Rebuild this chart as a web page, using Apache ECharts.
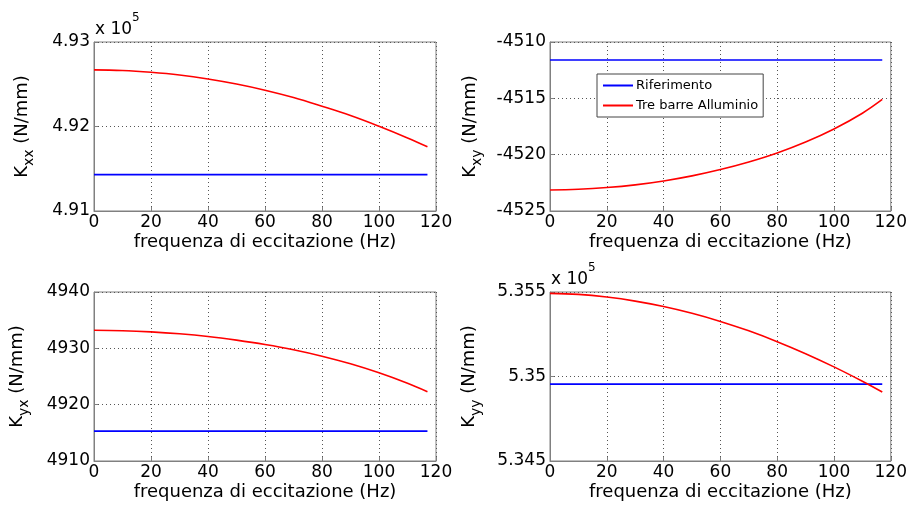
<!DOCTYPE html>
<html>
<head>
<meta charset="utf-8">
<script src="https://cdn.jsdelivr.net/npm/echarts@6/dist/echarts.min.js"></script>
<style>html,body{margin:0;padding:0;background:#fff;}#c{width:910px;height:507px;}</style>
</head>
<body>
<div id="c"></div>
<script>
// ---- data ----
const freq = [0, 10, 20, 30, 40, 50, 60, 70, 80, 90, 100, 110, 117];
const seriesNames = ['Riferimento', 'Tre barre Alluminio'];
const xTitle = 'frequenza di eccitazione (Hz)';
// Kxx (N/mm)
const kxxRef = [491430, 491430, 491430, 491430, 491430, 491430, 491430, 491430, 491430, 491430, 491430, 491430, 491430];
const kxxAl  = [492670, 492663, 492642, 492610, 492563, 492503, 492430, 492343, 492240, 492130, 492003, 491865, 491760];
// Kxy (N/mm)
const kxyRef = [-4511.6, -4511.6, -4511.6, -4511.6, -4511.6, -4511.6, -4511.6, -4511.6, -4511.6, -4511.6, -4511.6, -4511.6, -4511.6];
const kxyAl  = [-4523.13, -4523.07, -4522.92, -4522.68, -4522.33, -4521.88, -4521.32, -4520.65, -4519.85, -4518.88, -4517.72, -4516.32, -4515.1];
// Kyx (N/mm)
const kyxRef = [4915.3, 4915.3, 4915.3, 4915.3, 4915.3, 4915.3, 4915.3, 4915.3, 4915.3, 4915.3, 4915.3, 4915.3, 4915.3];
const kyxAl  = [4933.2, 4933.13, 4932.92, 4932.58, 4932.1, 4931.45, 4930.68, 4929.75, 4928.6, 4927.25, 4925.65, 4923.8, 4922.3];
// Kyy (N/mm)
const kyyRef = [534955, 534955, 534955, 534955, 534955, 534955, 534955, 534955, 534955, 534955, 534955, 534955, 534955];
const kyyAl  = [535492, 535486, 535470, 535446, 535414, 535374, 535326, 535270, 535206, 535135, 535057, 534972, 534908];
// axes
const xTicks = {min: 0, max: 120, interval: 20};
const yAxesDef = [
  {sub: 'xx', min: 491000, max: 493000, interval: 1000, scale: 1e5},
  {sub: 'xy', min: -4525, max: -4510, interval: 5, scale: 1},
  {sub: 'yx', min: 4910, max: 4940, interval: 10, scale: 1},
  {sub: 'yy', min: 534500, max: 535500, interval: 500, scale: 1e5}
];
const panels = [[kxxRef, kxxAl], [kxyRef, kxyAl], [kyxRef, kyxAl], [kyyRef, kyyAl]];

// ---- layout / style ----
const FONT = 'DejaVu Sans';
const grids = [
  {left: 94, top: 42, width: 342, height: 169},
  {left: 550, top: 42, width: 343, height: 169},
  {left: 94, top: 292, width: 342, height: 169},
  {left: 550, top: 292, width: 343, height: 169}
];
const yNameGaps = [58, 66, 63, 67];
const colors = ['#0000ff', '#ff0000'];
const frameColor = '#808080';

const pairs = arr => freq.map((f, i) => [f, arr[i]]);
const expoLabel = {
  text: '{a|x 10}{b|5}',
  rich: {
    a: {fontFamily: FONT, fontSize: 17, fill: '#000', lineHeight: 26, verticalAlign: 'bottom'},
    b: {fontFamily: FONT, fontSize: 12, fill: '#000', lineHeight: 14, verticalAlign: 'top'}
  }
};

const option = {
  animation: false,
  backgroundColor: '#fff',
  grid: grids.map(g => Object.assign({show: true, borderColor: frameColor, borderWidth: 1, backgroundColor: '#fff'}, g)),
  xAxis: grids.map((g, i) => ({
    type: 'value', gridIndex: i, min: xTicks.min, max: xTicks.max, interval: xTicks.interval,
    name: xTitle, nameLocation: 'middle', nameGap: 22,
    nameTextStyle: {fontFamily: FONT, fontSize: 18, color: '#000'},
    axisLine: {show: true, lineStyle: {color: frameColor}},
    axisTick: {show: true, inside: true, length: 4, lineStyle: {color: frameColor}},
    axisLabel: {fontFamily: FONT, fontSize: 17, color: '#000', margin: 3},
    splitLine: {show: true, lineStyle: {color: '#555', type: [1, 3], width: 1}}
  })),
  yAxis: yAxesDef.map((d, i) => ({
    type: 'value', gridIndex: i, min: d.min, max: d.max, interval: d.interval,
    name: '{k|K}{s|' + d.sub + '}{k| (N/mm)}', nameLocation: 'middle', nameRotate: 90, nameGap: yNameGaps[i],
    nameTextStyle: {
      fontFamily: FONT, color: '#000',
      rich: {
        k: {fontFamily: FONT, fontSize: 18, color: '#000', lineHeight: 23, verticalAlign: 'top'},
        s: {fontFamily: FONT, fontSize: 14, color: '#000', lineHeight: 12, verticalAlign: 'bottom'}
      }
    },
    axisLine: {show: true, lineStyle: {color: frameColor}},
    axisTick: {show: true, inside: true, length: 4, lineStyle: {color: frameColor}},
    axisLabel: {
      fontFamily: FONT, fontSize: 17, color: '#000', margin: 4,
      formatter: v => d.scale === 1 ? String(v) : String(parseFloat((v / d.scale).toFixed(4)))
    },
    splitLine: {show: true, lineStyle: {color: '#555', type: [1, 3], width: 1}}
  })),
  legend: {
    show: true, orient: 'vertical', left: 597, top: 74,
    data: seriesNames.map(n => ({name: n, icon: 'rect'})),
    backgroundColor: '#fff', borderColor: '#444', borderWidth: 1,
    padding: [5, 5, 5, 6], itemGap: 7, itemWidth: 30, itemHeight: 2,
    textStyle: {fontFamily: FONT, fontSize: 13, color: '#000', padding: [0, 0, 0, -2]}
  },
  graphic: [
    {type: 'text', left: 95, top: 12, style: expoLabel},
    {type: 'text', left: 551, top: 262, style: expoLabel}
  ],
  series: []
};

panels.forEach((p, i) => {
  p.forEach((arr, j) => {
    option.series.push({
      type: 'line', name: seriesNames[j], xAxisIndex: i, yAxisIndex: i,
      data: pairs(arr), showSymbol: false, symbol: 'none', smooth: j === 1 ? 0.4 : false,
      lineStyle: {color: colors[j], width: 1.6}, itemStyle: {color: colors[j]},
      z: j === 1 ? 3 : 2
    });
  });
});

const chart = echarts.init(document.getElementById('c'), null, {renderer: 'canvas'});
chart.setOption(option);
</script>
</body>
</html>
